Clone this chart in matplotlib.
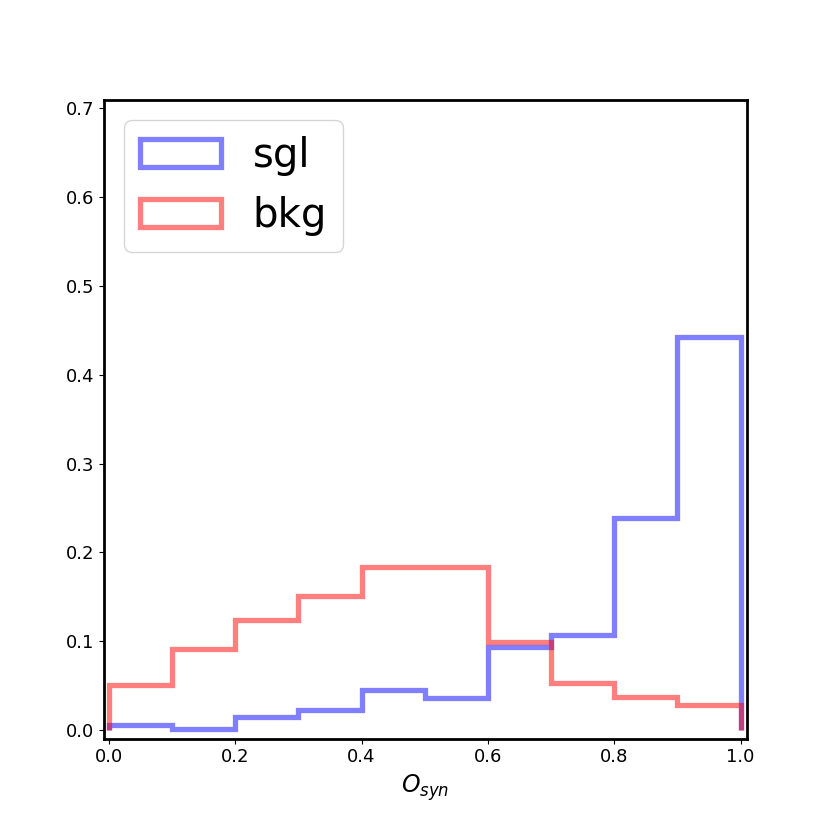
import numpy as np
import matplotlib.pyplot as plt

# bin edges and fraction per bin
bin_edges = [0.0, 0.1, 0.2, 0.3, 0.4, 0.5, 0.6, 0.7, 0.8, 0.9, 1.0]
bin_centers = [0.05, 0.15, 0.25, 0.35, 0.45, 0.55, 0.65, 0.75, 0.85, 0.95]
sgl_frac = [0.005, 0.001, 0.014, 0.022, 0.045, 0.036, 0.093, 0.107, 0.239, 0.443]
bkg_frac = [0.051, 0.091, 0.124, 0.151, 0.183, 0.183, 0.099, 0.053, 0.037, 0.028]

fig = plt.figure(figsize=(8.3, 8.3), dpi=100)
ax = fig.add_subplot(111)

ax.hist(bin_centers, bins=bin_edges, weights=sgl_frac, histtype='step',
        color='blue', alpha=0.5, linewidth=3.8, label='sgl')
ax.hist(bin_centers, bins=bin_edges, weights=bkg_frac, histtype='step',
        color='red', alpha=0.5, linewidth=3.8, label='bkg')

ax.set_xlim(-0.008, 1.01)
ax.set_ylim(-0.01, 0.71)
ax.set_xlabel('$O_{syn}$', fontsize=17)
ax.tick_params(labelsize=13)
for s in ax.spines.values():
    s.set_linewidth(2)

ax.legend(loc='upper left', fontsize=29)

plt.savefig('out.png')
